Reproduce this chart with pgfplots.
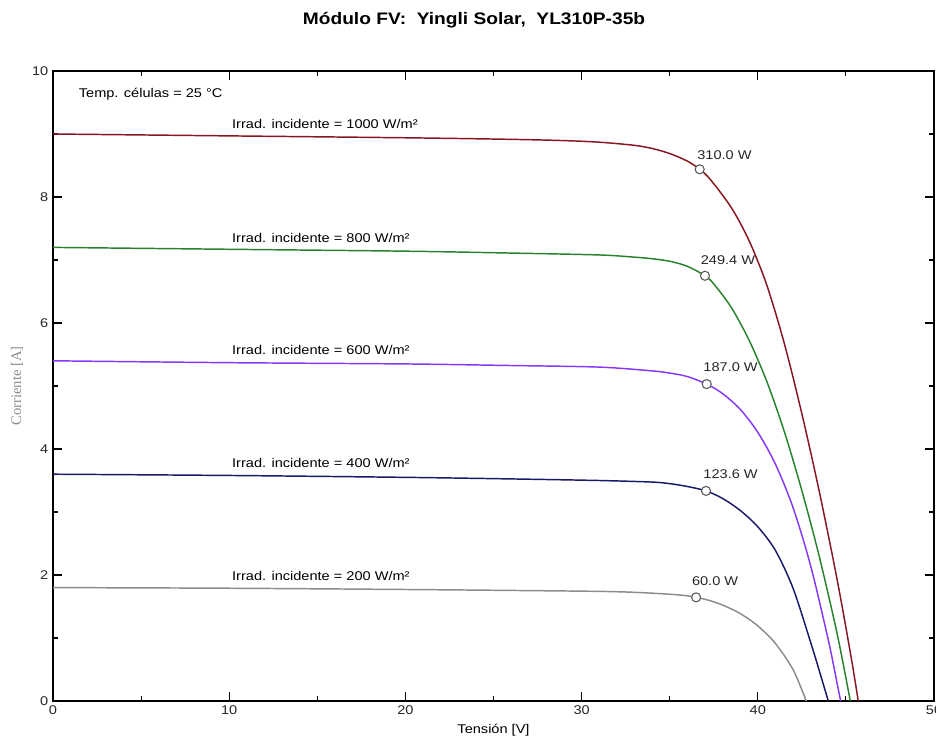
\documentclass[border=0pt]{standalone}
\usepackage{fontspec}
\setmainfont{Liberation Sans}[FakeStretch=1.15]
\newfontfamily\serifgray{Liberation Serif}
\usepackage{pgfplots}
\pgfplotsset{compat=1.18}
\definecolor{cred}{RGB}{135,22,32}
\definecolor{cgreen}{RGB}{40,130,45}
\definecolor{cpurple}{RGB}{135,55,250}
\definecolor{cblue}{RGB}{25,25,105}
\definecolor{cgray}{RGB}{140,140,140}
\begin{document}
\begin{tikzpicture}
\begin{axis}[
  name=ax, at={(0,0)}, anchor=south west,
  scale only axis, width=660.75pt, height=472.5pt,
  xmin=0, xmax=50, ymin=0, ymax=10,
  xtick={0,10,20,30,40,50}, ytick={0,2,4,6,8,10},
  minor x tick num=1, minor y tick num=1,
  tick align=inside, major tick length=7pt, minor tick length=3.5pt,
  axis line style={line width=1.3pt},
  every tick/.style={black, line width=0.9pt},
  every minor tick/.style={black, line width=0.8pt},
  tick label style={font=\fontsize{9.5}{11}\selectfont, text=black!85},
  /pgf/number format/assume math mode=true,
  clip=false,
]
\addplot[cred, line width=1.1pt, smooth] coordinates {
(0,9.00) (10,8.97) (20,8.94) (26,8.915) (29,8.895) (31,8.87) (33,8.82) (34,8.77) (35,8.69) (36,8.57) (36.7,8.44) (37.3,8.28) (38.5,7.83) (39.5,7.31) (40.5,6.61) (41.5,5.68) (42.5,4.56) (43.5,3.31) (44.5,1.93) (45.3,0.69) (45.7,0)};
\addplot[cgreen, line width=1.1pt, smooth] coordinates {
(0,7.20) (10,7.17) (20,7.14) (26,7.11) (31,7.08) (33,7.045) (34,7.02) (35,6.98) (36,6.90) (37,6.75) (37.5,6.62) (38.5,6.245) (39.5,5.73) (40.5,5.08) (41.5,4.28) (42.5,3.34) (43.5,2.28) (44.5,1.07) (45.25,0)};
\addplot[cpurple, line width=1.1pt, smooth] coordinates {
(0,5.40) (10,5.37) (20,5.35) (26,5.325) (31,5.30) (34,5.24) (35,5.205) (36,5.15) (37.1,5.03) (38,4.88) (39,4.63) (40,4.265) (41,3.76) (42,3.07) (43,2.145) (44,0.97) (44.5,0.28) (44.7,0)};
\addplot[cblue, line width=1.1pt, smooth] coordinates {
(0,3.60) (10,3.58) (20,3.55) (26,3.525) (31,3.50) (34,3.475) (35,3.45) (36,3.405) (37.06,3.335) (38,3.215) (39,3.025) (40,2.765) (41,2.39) (42,1.79) (43,0.93) (43.5,0.47) (44,0)};
\addplot[cgray, line width=1.1pt, smooth] coordinates {
(0,1.80) (10,1.79) (20,1.77) (26,1.755) (31,1.74) (33,1.725) (35,1.695) (36,1.67) (36.5,1.645) (37.2,1.60) (38,1.523) (39,1.388) (40,1.193) (41,0.913) (42,0.498) (42.75,0)};
\addplot[only marks, mark=*, mark size=3.4pt, mark options={fill=white, draw=black!65, line width=0.8pt}] coordinates {
(36.7,8.44) (37.0,6.75) (37.1,5.03) (37.06,3.335) (36.5,1.645)};
\node[anchor=west, font=\fontsize{9.5}{11}\selectfont] at (axis cs:1.2,9.63) {Temp. células = 25 °C};
\node[anchor=west, font=\fontsize{9.5}{11}\selectfont] at (axis cs:9.9,9.16) {Irrad. incidente = 1000 W/m²};
\node[anchor=west, font=\fontsize{9.5}{11}\selectfont] at (axis cs:9.9,7.35) {Irrad. incidente = 800 W/m²};
\node[anchor=west, font=\fontsize{9.5}{11}\selectfont] at (axis cs:9.9,5.57) {Irrad. incidente = 600 W/m²};
\node[anchor=west, font=\fontsize{9.5}{11}\selectfont] at (axis cs:9.9,3.78) {Irrad. incidente = 400 W/m²};
\node[anchor=west, font=\fontsize{9.5}{11}\selectfont] at (axis cs:9.9,1.98) {Irrad. incidente = 200 W/m²};
\node[anchor=west, font=\fontsize{9.5}{11}\selectfont, text=black!85] at (axis cs:36.3,8.67) {310.0 W};
\node[anchor=west, font=\fontsize{9.5}{11}\selectfont, text=black!85] at (axis cs:36.5,7.0) {249.4 W};
\node[anchor=west, font=\fontsize{9.5}{11}\selectfont, text=black!85] at (axis cs:36.65,5.30) {187.0 W};
\node[anchor=west, font=\fontsize{9.5}{11}\selectfont, text=black!85] at (axis cs:36.65,3.60) {123.6 W};
\node[anchor=west, font=\fontsize{9.5}{11}\selectfont, text=black!85] at (axis cs:36.0,1.90) {60.0 W};
\coordinate (bl) at (rel axis cs:0,0);
\coordinate (tr) at (rel axis cs:1,1);
\coordinate (tl) at (rel axis cs:0,1);
\coordinate (ml) at (rel axis cs:0,0.5);
\coordinate (bm) at (rel axis cs:0.5,0);
\end{axis}
\node[font=\bfseries\fontsize{12.5}{14}\selectfont] at ([xshift=315.75pt,yshift=38.25pt]tl) {Módulo FV:\ \ Yingli Solar,\ \ YL310P-35b};
\node[font=\fontsize{9.5}{11}\selectfont] at ([yshift=-21.75pt]bm) {Tensión [V]};
\node[rotate=90, font=\serifgray\fontsize{11}{12}\selectfont, text=black!45] at ([xshift=-27pt]ml) {Corriente [A]};
\pgfresetboundingbox
\path[use as bounding box] ([xshift=-39.75pt,yshift=-27.75pt]bl) rectangle ([xshift=1.5pt,yshift=53.25pt]tr);
\end{tikzpicture}
\end{document}
